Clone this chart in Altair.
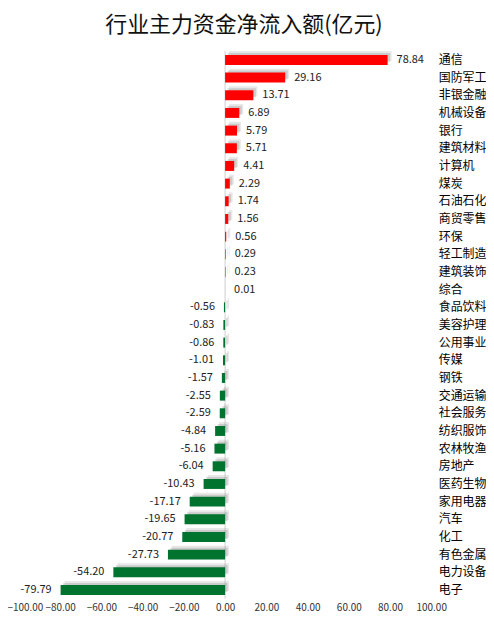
import altair as alt
import pandas as pd

categories = ["通信", "国防军工", "非银金融", "机械设备", "银行", "建筑材料", "计算机", "煤炭",
              "石油石化", "商贸零售", "环保", "轻工制造", "建筑装饰", "综合", "食品饮料", "美容护理",
              "公用事业", "传媒", "钢铁", "交通运输", "社会服务", "纺织服饰", "农林牧渔", "房地产",
              "医药生物", "家用电器", "汽车", "化工", "有色金属", "电力设备", "电子"]
values = [78.84, 29.16, 13.71, 6.89, 5.79, 5.71, 4.41, 2.29, 1.74, 1.56, 0.56, 0.29, 0.23, 0.01,
          -0.56, -0.83, -0.86, -1.01, -1.57, -2.55, -2.59, -4.84, -5.16, -6.04, -10.43, -17.17,
          -19.65, -20.77, -27.73, -54.20, -79.79]
x_ticks = [-100, -80, -60, -40, -20, 0, 20, 40, 60, 80, 100]

df = pd.DataFrame({"行业": categories, "净流入": values})
df["sign"] = ["pos" if v >= 0 else "neg" for v in values]
df["label"] = [f"{v:.2f}" for v in values]

FONT = "Noto Sans CJK SC"

xs = alt.Scale(domain=[-100, 100], nice=False, zero=False)
ys = alt.Scale(domain=categories, paddingInner=0.5, paddingOuter=0.25)

base = alt.Chart(df)
X = alt.X("净流入:Q", scale=xs)
Y = alt.Y("行业:N", sort=categories, scale=ys)

y_enc = alt.Y("行业:N", sort=categories, scale=ys,
              axis=alt.Axis(orient="right", title=None, ticks=False, domain=False,
                            labelPadding=7, labelFontSize=12, labelColor="#000000",
                            labelFont=FONT, labelLimit=0, labelOverlap=False))

shadow1 = base.mark_bar(color="#808080", opacity=0.18, size=10, xOffset=4, yOffset=-4).encode(x=X, y=Y)
shadow2 = base.mark_bar(color="#808080", opacity=0.28, size=9, xOffset=2.5, yOffset=-2.5).encode(x=X, y=Y)

zero = alt.Chart(pd.DataFrame({"z": [0]})).mark_rule(color="#d0d0d0", strokeWidth=1).encode(
    x=alt.X("z:Q", scale=xs)
)

bars = base.mark_bar(size=10).encode(
    x=alt.X("净流入:Q", scale=xs,
            axis=alt.Axis(values=x_ticks, format=".2f", title=None, ticks=False, domain=False,
                          grid=False, labelFontSize=10, labelColor="#333333", labelFont=FONT,
                          labelPadding=4, labelFlush=False, labelOverlap=False,
                          labelOffset={"condition": {"test": "datum.value == -100", "value": 6},
                                       "value": 0})),
    y=y_enc,
    color=alt.Color("sign:N", scale=alt.Scale(domain=["pos", "neg"], range=["#FF0000", "#00732F"]),
                    legend=None),
)

pos_text = base.transform_filter("datum.sign == 'pos'").mark_text(
    align="left", baseline="middle", dx=9, fontSize=11, color="#222222", font=FONT
).encode(x=X, y=Y, text="label:N")

neg_text = base.transform_filter("datum.sign == 'neg'").mark_text(
    align="right", baseline="middle", dx=-9, fontSize=11, color="#222222", font=FONT
).encode(x=X, y=Y, text="label:N")

chart = alt.layer(zero, shadow1, shadow2, bars, pos_text, neg_text).properties(
    width=414,
    height=550,
    title=alt.TitleParams("行业主力资金净流入额(亿元)", fontSize=22, font=FONT, fontWeight="normal",
                          color="#111111", anchor="middle", dx=19, offset=14),
    autosize=alt.AutoSizeParams(type="none"),
    padding={"left": 11, "top": 42, "right": 55, "bottom": 16},
).configure_view(stroke=None)

chart.save("out.html", embed_options={"renderer": "svg", "actions": False})
